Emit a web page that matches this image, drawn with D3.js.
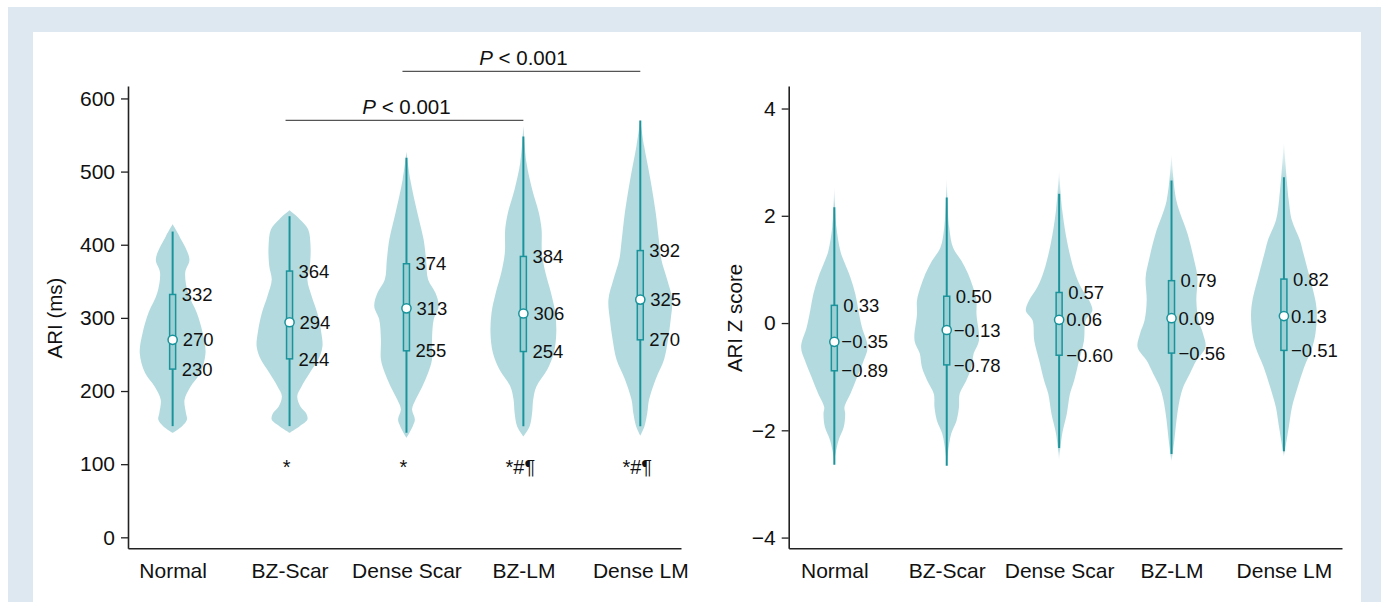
<!DOCTYPE html>
<html>
<head>
<meta charset="utf-8">
<script src="https://cdn.jsdelivr.net/npm/d3@7"></script>
<style>
  body { margin: 0; background: #fff; }
  svg { display: block; font-family: "Liberation Sans", Arial, sans-serif; }
</style>
</head>
<body>
<svg id="chart" width="1386" height="602"></svg>
<script>
const groups = ["Normal", "BZ-Scar", "Dense Scar", "BZ-LM", "Dense LM"];

// ARI (ms)
const ariQ1 = [230, 244, 255, 254, 270];
const ariMedian = [270, 294, 313, 306, 325];
const ariQ3 = [332, 364, 374, 384, 392];
const ariLow = [152, 152, 143, 152, 152];
const ariHigh = [418, 439, 519, 548, 570];
const ariMarks = ["", "*", "*", "*#¶", "*#¶"];
const ariTicks = [0, 100, 200, 300, 400, 500, 600];
// violin outlines as [value, relative density]
const ariDensity = [
  [[428,0],[412,.19],[380,.48],[362,.36],[334,.44],[307,.69],[279,.86],[252,.94],[225,.79],[206,.51],[188,.34],[170,.38],[161,.41],[152,.27],[143,0]],
  [[447,0],[435,.29],[421,.53],[398,.60],[371,.58],[352,.51],[330,.63],[307,.79],[279,.91],[261,.94],[243,.82],[225,.58],[206,.34],[193,.22],[179,.31],[170,.47],[161,.51],[152,.29],[143,0]],
  [[527,0],[489,.11],[444,.31],[407,.49],[380,.56],[352,.62],[334,.83],[316,.92],[298,.78],[270,.73],[243,.73],[225,.62],[206,.45],[188,.26],[175,.16],[161,.24],[152,.18],[136,0]],
  [[562,0],[512,.09],[476,.25],[444,.44],[421,.52],[389,.53],[362,.63],[334,.79],[307,.91],[279,.94],[252,.87],[229,.68],[206,.37],[188,.28],[170,.25],[152,.18],[138,0]],
  [[571,0],[535,.11],[489,.29],[444,.44],[407,.53],[380,.60],[352,.77],[325,.91],[298,.87],[270,.79],[243,.68],[216,.44],[188,.25],[170,.20],[152,.12],[139,0]]
];
const ariBrackets = [
  { from: "BZ-Scar", to: "BZ-LM", level: 570, label: "< 0.001" },
  { from: "Dense Scar", to: "Dense LM", level: 637, label: "< 0.001" }
];

// ARI Z score
const zQ1 = [-0.89, -0.78, -0.60, -0.56, -0.51];
const zMedian = [-0.35, -0.13, 0.06, 0.09, 0.13];
const zQ3 = [0.33, 0.50, 0.57, 0.79, 0.82];
const zLow = [-2.64, -2.66, -2.33, -2.44, -2.39];
const zHigh = [2.16, 2.34, 2.41, 2.66, 2.72];
const zTicks = [-4, -2, 0, 2, 4];
const zDensity = [
  [[2.56,0],[1.79,.06],[1.35,.17],[1.16,.27],[0.85,.46],[0.54,.60],[0.23,.69],[-0.08,.79],[-0.45,.95],[-0.70,.84],[-1.01,.65],[-1.32,.46],[-1.57,.29],[-1.69,.31],[-1.94,.27],[-2.19,.12],[-2.56,0]],
  [[2.72,0],[1.79,.07],[1.41,.18],[1.16,.42],[0.92,.61],[0.67,.75],[0.42,.85],[0.17,.85],[-0.33,.92],[-0.57,.77],[-0.82,.71],[-1.07,.56],[-1.32,.37],[-1.57,.35],[-1.82,.28],[-2.06,.13],[-2.44,.03],[-2.66,0]],
  [[2.84,0],[2.10,.09],[1.48,.24],[0.98,.43],[0.67,.62],[0.42,.86],[0.23,.95],[0.05,.76],[-0.33,.71],[-0.70,.57],[-1.07,.43],[-1.32,.31],[-1.69,.22],[-2.06,.09],[-2.56,0]],
  [[3.15,0],[2.28,.14],[1.66,.46],[1.16,.65],[0.85,.74],[0.42,.71],[0.05,.77],[-0.20,.90],[-0.45,.97],[-0.70,.71],[-0.95,.52],[-1.20,.33],[-1.44,.23],[-1.82,.14],[-2.19,.08],[-2.59,0]],
  [[3.37,0],[2.28,.14],[1.91,.23],[1.54,.46],[1.29,.56],[0.92,.71],[0.42,.90],[0.17,.94],[-0.20,.90],[-0.45,.81],[-0.82,.58],[-1.20,.39],[-1.57,.23],[-1.94,.14],[-2.50,0]]
];

const violinFill = "#b3dbdf";
const teal = "#1b939b";
const boxFill = "#9dd0d5";

const svg = d3.select("#chart");
const defs = svg.append("defs");

// frame
svg.append("rect").attr("x", 8).attr("y", 7).attr("width", 1373).attr("height", 600).attr("fill", "#dde8f0");
svg.append("rect").attr("x", 33).attr("y", 32).attr("width", 1328).attr("height", 580).attr("fill", "#fff");

const widthScale = d3.scaleLinear().domain([0, 1]).range([0, 35]);

function drawPanel(cfg) {
  const g = svg.append("g");
  const x = d3.scalePoint().domain(groups).range(cfg.xRange).padding(cfg.padding).align(cfg.align);
  const y = d3.scaleLinear().domain(cfg.yDomain).range([548.3, 86]);

  const area = d3.area()
    .curve(d3.curveCatmullRom.alpha(0.5))
    .y(d => y(d[0]));

  groups.forEach((grp, i) => {
    const cx = x(grp);
    const dens = cfg.density[i];
    let fill = violinFill;

    if (cfg.fadeTails) {
      // tails past the whiskers fade out
      const top = dens[0][0], bot = dens[dens.length - 1][0];
      const id = `fade-${cfg.key}-${i}`;
      const grad = defs.append("linearGradient").attr("id", id)
        .attr("gradientUnits", "userSpaceOnUse")
        .attr("x1", 0).attr("x2", 0).attr("y1", y(top)).attr("y2", y(bot));
      const off = v => (y(v) - y(top)) / (y(bot) - y(top));
      [[0, 0.15], [off(cfg.high[i]), 1], [off(cfg.low[i]), 1], [1, 0.15]].forEach(([o, op]) => {
        grad.append("stop").attr("offset", o).attr("stop-color", violinFill).attr("stop-opacity", op);
      });
      fill = `url(#${id})`;
    }

    g.append("path")
      .datum(dens)
      .attr("fill", fill)
      .attr("d", area.x0(d => cx - widthScale(d[1])).x1(d => cx + widthScale(d[1])));

    g.append("line")
      .attr("x1", cx).attr("x2", cx)
      .attr("y1", y(cfg.low[i])).attr("y2", y(cfg.high[i]))
      .attr("stroke", teal).attr("stroke-width", 2);

    g.append("rect")
      .attr("x", cx - 3).attr("width", 6)
      .attr("y", y(cfg.q3[i])).attr("height", y(cfg.q1[i]) - y(cfg.q3[i]))
      .attr("fill", boxFill).attr("stroke", teal).attr("stroke-width", 1.5);

    g.append("circle")
      .attr("cx", cx).attr("cy", y(cfg.median[i])).attr("r", 4.6)
      .attr("fill", "#fff").attr("stroke", teal).attr("stroke-width", 1.5);

    const lab = [[cfg.q3[i], 9], [cfg.median[i], cfg.medOffset], [cfg.q1[i], cfg.q1Offset]];
    lab.forEach(([v, off]) => {
      g.append("text")
        .attr("x", cx + off).attr("y", y(v)).attr("dy", "0.36em")
        .attr("font-size", 18.5).attr("fill", "#111")
        .text(cfg.fmt(v));
    });

    if (cfg.marks && cfg.marks[i]) {
      g.append("text")
        .attr("x", cx - 3).attr("y", y(100) + 10)
        .attr("text-anchor", "middle")
        .attr("font-size", 20).attr("fill", "#111")
        .text(cfg.marks[i]);
    }
  });

  // axes
  const yAxis = g.append("g")
    .attr("transform", `translate(${cfg.xRange[0]},0)`)
    .call(d3.axisLeft(y).tickValues(cfg.ticks).tickSize(7).tickSizeOuter(0).tickPadding(6));
  const xAxis = g.append("g")
    .attr("transform", "translate(0,548.3)")
    .call(d3.axisBottom(x).tickSize(0).tickPadding(15));
  [yAxis, xAxis].forEach(a => {
    a.attr("font-family", null);
    a.selectAll("text").attr("font-size", 21).attr("fill", "#111");
    a.select(".domain").attr("stroke", "#222").attr("stroke-width", 1.6);
    a.selectAll(".tick line").attr("stroke", "#222").attr("stroke-width", 1.3);
  });

  g.append("text")
    .attr("transform", `translate(${cfg.titleX},${cfg.titleY}) rotate(-90)`)
    .attr("text-anchor", "middle")
    .attr("font-size", 20.5).attr("fill", "#111")
    .text(cfg.title);

  (cfg.brackets || []).forEach(b => {
    const x1 = x(b.from), x2 = x(b.to);
    g.append("line")
      .attr("x1", x1 - 4).attr("x2", x2)
      .attr("y1", y(b.level)).attr("y2", y(b.level))
      .attr("stroke", "#555").attr("stroke-width", 1.4);
    const t = g.append("text")
      .attr("x", (x1 + x2) / 2).attr("y", y(b.level) - 6)
      .attr("text-anchor", "middle")
      .attr("font-size", 20.5).attr("fill", "#111");
    t.append("tspan").attr("font-style", "italic").text("P");
    t.append("tspan").text(" " + b.label);
  });
}

drawPanel({
  key: "ari",
  xRange: [128, 681], padding: 0.365, align: 0.523,
  yDomain: [-15, 617], ticks: ariTicks,
  density: ariDensity, q1: ariQ1, median: ariMedian, q3: ariQ3, low: ariLow, high: ariHigh,
  fmt: d3.format("d"), medOffset: 10, q1Offset: 9,
  marks: ariMarks, brackets: ariBrackets,
  title: "ARI (ms)", titleX: 62, titleY: 318
});

drawPanel({
  key: "z", fadeTails: true,
  xRange: [788.7, 1342], padding: 0.4614, align: 0.44,
  yDomain: [-4.2, 4.42], ticks: zTicks,
  density: zDensity, q1: zQ1, median: zMedian, q3: zQ3, low: zLow, high: zHigh,
  fmt: d3.format(".2f"), medOffset: 7, q1Offset: 7,
  title: "ARI Z score", titleX: 742, titleY: 318
});
</script>
</body>
</html>
